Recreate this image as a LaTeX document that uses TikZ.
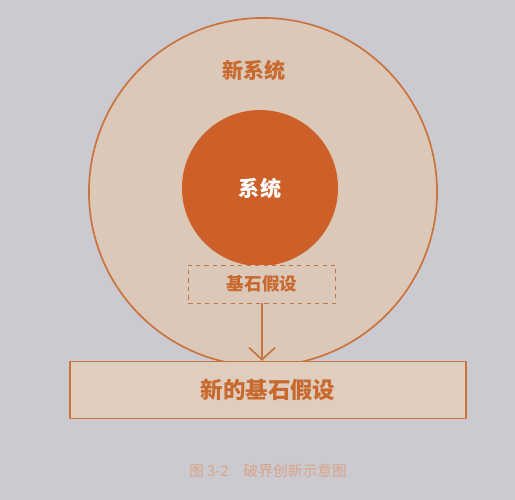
\documentclass[tikz,border=0pt]{standalone}
\usepackage{fontspec}
\newfontfamily\cjk{Noto Sans CJK SC}
\usepackage{tikz}
\usetikzlibrary{arrows.meta}

\definecolor{PageGray}{HTML}{CBCAD1}
\definecolor{Peach}{HTML}{DCC8B8}
\definecolor{Rust}{HTML}{CC6028}
\definecolor{Edge}{HTML}{C9733F}
\definecolor{Label}{HTML}{C8692E}
\definecolor{Faded}{HTML}{D9A487}

\begin{document}
\begin{tikzpicture}[x=0.025cm, y=-0.025cm]
			\tikzstyle{Ring}	= [circle, draw=Edge, line width=1.2pt, fill=Peach, minimum size=8.7cm, inner sep=0pt]
			\tikzstyle{Core}	= [circle, fill=Rust, minimum size=3.9cm, inner sep=0pt, text=white, font=\cjk\bfseries\fontsize{15}{15}\selectfont]
			\tikzstyle{Title}	= [text=Label, font=\cjk\bfseries\fontsize{15}{15}\selectfont]
			\tikzstyle{OldBase}	= [draw=Edge!80!gray, dashed, line width=0.7pt, fill=Peach, minimum width=3.68cm, minimum height=0.95cm, text=Label, font=\cjk\bfseries\fontsize{12.5}{12.5}\selectfont]
			\tikzstyle{NewBase}	= [draw=Edge, line width=1.2pt, fill=Peach!90!white, minimum width=9.9cm, minimum height=1.42cm, text=Label, font=\cjk\bfseries\fontsize{16}{16}\selectfont]
			\tikzstyle{Caption}	= [text=Faded, font=\cjk\fontsize{10.5}{10.5}\selectfont]
			\tikzstyle{Shift}	= [draw=Edge, line width=1.2pt, -{Straight Barb[length=3mm, width=6.5mm]}]
			
			\fill [PageGray] (0, 0) rectangle (515, 500);
			\node (ring) at (263, 192) [Ring] {};
			\node (ringlabel) at (254, 70) [Title] {新系统};
			\node (core) at (260, 188) [Core] {系统};
			\node (oldbase) at (262, 284) [OldBase] {基石假设};
			\node (newbase) at (268, 390) [NewBase] {新的基石假设};
			\node (caption) at (268, 471) [Caption] {图 3-2\quad 破界创新示意图};
			
			\draw (oldbase.south) to (oldbase.south |- newbase.north) [Shift];
		\end{tikzpicture}
\end{document}
